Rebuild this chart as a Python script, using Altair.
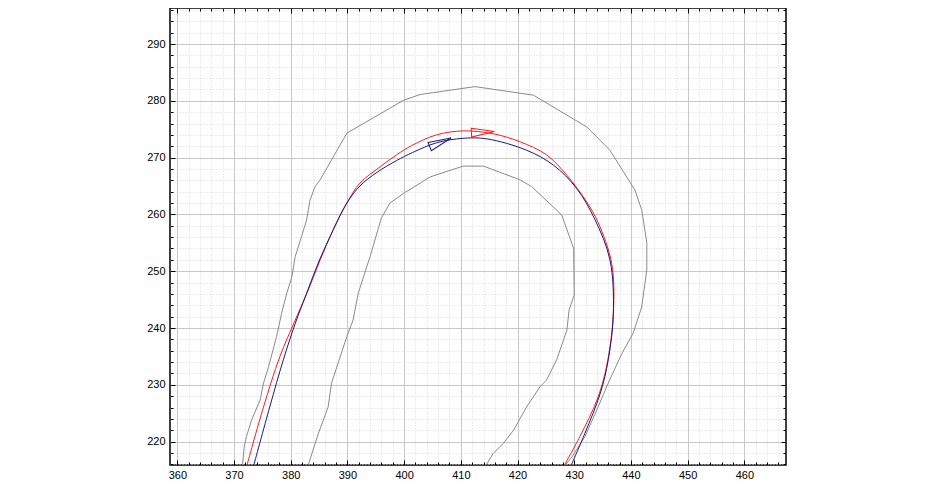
import altair as alt
import pandas as pd

# ---- data ----
outer_x = [371.5, 371.8, 372.2, 373.1, 374.6, 375.2, 376.1, 377.5, 378.4, 379.3, 380.2, 380.5, 380.8,
           381.9, 382.8, 383.4, 384.3, 385.2, 389.9, 399.9, 402.8, 412.5, 422.8, 432.2, 436.3, 440.7,
           441.9, 442.8, 442.8, 441.9, 440.4, 438.4, 436.0, 434.0, 431.9, 429.6, 428.1]
outer_y = [215.9, 219.1, 220.9, 223.8, 227.3, 230.3, 233.2, 238.5, 242.6, 246.1, 249.0, 250.8, 252.6,
           256.1, 259.0, 262.5, 264.9, 266.1, 274.3, 280.1, 281.1, 282.5, 281.0, 275.4, 271.3, 264.3,
           260.8, 255.0, 250.2, 243.7, 239.1, 235.5, 230.3, 225.6, 220.9, 217.3, 215.5]

inner_x = [383.1, 384.9, 386.6, 387.2, 389.9, 391.0, 391.9, 394.0, 396.0, 397.5, 399.9, 404.6, 410.4,
           414.0, 420.4, 422.5, 427.8, 429.9, 430.0, 429.1, 428.7, 426.9, 425.1, 424.0, 421.6, 419.3,
           417.5, 415.7, 414.5]
inner_y = [215.9, 221.5, 226.1, 230.3, 238.5, 241.4, 246.1, 252.6, 259.4, 262.0, 263.7, 266.6, 268.5,
           268.5, 266.1, 264.9, 259.9, 254.0, 245.8, 243.2, 239.6, 234.4, 230.8, 229.7, 226.1, 222.0,
           219.7, 217.9, 215.9]

red_x = [372.3, 375.2, 378.1, 380.8, 383.1, 385.2, 387.5, 389.9, 392.2, 395.8, 398.7, 401.3, 405.7,
         410.4, 415.7, 420.4, 425.1, 428.7, 432.2, 434.2, 436.6, 436.9, 435.7, 434.0, 431.0, 428.3]
red_y = [215.9, 226.1, 235.0, 241.4, 246.7, 252.0, 257.3, 262.0, 265.5, 268.4, 270.5, 272.1, 274.0,
         274.7, 274.2, 272.8, 270.5, 266.9, 262.2, 258.6, 251.4, 242.6, 233.2, 227.3, 220.9, 215.9]

blue_x = [373.5, 376.3, 378.7, 380.8, 382.8, 385.0, 387.5, 389.9, 392.2, 395.2, 398.7, 401.5, 405.7,
          410.4, 414.6, 421.6, 426.3, 430.4, 433.6, 436.3, 436.9, 436.0, 434.6, 431.9, 429.5]
blue_y = [215.9, 226.1, 234.4, 240.8, 246.1, 251.8, 257.3, 262.0, 265.0, 267.4, 269.5, 270.9, 272.6,
          273.4, 273.3, 271.3, 268.7, 264.6, 259.2, 252.0, 242.6, 234.4, 228.5, 221.5, 215.9]

marker_series = ["red", "blue"]
marker_x = [413.9, 406.4]
marker_y = [274.5, 272.7]
marker_heading = [357, 338]

x_major = [360, 370, 380, 390, 400, 410, 420, 430, 440, 450, 460]
x_minor = list(range(360, 468, 2))
y_major = [220, 230, 240, 250, 260, 270, 280, 290]
y_minor = list(range(216, 298, 2))

series_names = ["outer", "inner", "red", "blue"]
series_colors = ["#8a8a8a", "#8a8a8a", "#ff1a1a", "#1a1a80"]

# ---- tables ----
rows = []
for name, xs_, ys_ in [("outer", outer_x, outer_y), ("inner", inner_x, inner_y),
                       ("red", red_x, red_y), ("blue", blue_x, blue_y)]:
    for i, (a, b) in enumerate(zip(xs_, ys_)):
        rows.append({"series": name, "i": i, "x": a, "y": b})
lines_df = pd.DataFrame(rows)
markers_df = pd.DataFrame({"series": marker_series, "x": marker_x, "y": marker_y,
                           "heading": marker_heading})

xs = alt.Scale(domain=[358.71, 467.35], nice=False, zero=False)
ys = alt.Scale(domain=[215.88, 296.34], nice=False, zero=False)
cscale = alt.Scale(domain=series_names, range=series_colors)

FONT = "Liberation Sans"


def ax(orient, values, **kw):
    base = dict(orient=orient, values=values, title=None, labels=False, ticks=False,
                domain=False, grid=False)
    base.update(kw)
    return alt.Axis(**base)


def axis_layer(xaxis, yaxis):
    return alt.Chart(markers_df).mark_point(opacity=0, size=1).encode(
        x=alt.X("x:Q", scale=xs, axis=xaxis),
        y=alt.Y("y:Q", scale=ys, axis=yaxis),
    )


minor_grid = axis_layer(
    ax("bottom", x_minor, grid=True, gridColor="#d9d9d9", gridDash=[1, 2], gridWidth=1),
    ax("left", y_minor, grid=True, gridColor="#d9d9d9", gridDash=[1, 2], gridWidth=1),
)
major_grid = axis_layer(
    ax("bottom", x_major, grid=True, gridColor="#c8c8c8", gridWidth=1),
    ax("left", y_major, grid=True, gridColor="#c8c8c8", gridWidth=1),
)
label_axes = axis_layer(
    ax("bottom", x_major, labels=True, tickSize=0, labelPadding=4, labelFont=FONT,
       labelFontSize=11, labelColor="#000000"),
    ax("left", y_major, labels=True, tickSize=0, labelPadding=5, labelFont=FONT,
       labelFontSize=11, labelColor="#000000"),
)
tick_kw_major = dict(ticks=True, tickSize=5, offset=-5, tickColor="#000000", tickWidth=1)
tick_kw_minor = dict(ticks=True, tickSize=3, offset=-3, tickColor="#000000", tickWidth=1)
major_ticks_bl = axis_layer(ax("bottom", x_major, **tick_kw_major), ax("left", y_major, **tick_kw_major))
minor_ticks_bl = axis_layer(ax("bottom", x_minor, **tick_kw_minor), ax("left", y_minor, **tick_kw_minor))
major_ticks_tr = axis_layer(ax("top", x_major, **tick_kw_major), ax("right", y_major, **tick_kw_major))
minor_ticks_tr = axis_layer(ax("top", x_minor, **tick_kw_minor), ax("right", y_minor, **tick_kw_minor))

gray_lines = alt.Chart(lines_df).transform_filter(
    alt.FieldOneOfPredicate(field="series", oneOf=["outer", "inner"])
).mark_line(strokeWidth=1, clip=True).encode(
    x=alt.X("x:Q", scale=xs, axis=None),
    y=alt.Y("y:Q", scale=ys, axis=None),
    color=alt.Color("series:N", scale=cscale, legend=None),
    detail="series:N",
    order=alt.Order("i:Q"),
)

path_lines = alt.Chart(lines_df).transform_filter(
    alt.FieldOneOfPredicate(field="series", oneOf=["red", "blue"])
).mark_line(strokeWidth=1, clip=True, interpolate="catmull-rom").encode(
    x=alt.X("x:Q", scale=xs, axis=None),
    y=alt.Y("y:Q", scale=ys, axis=None),
    color=alt.Color("series:N", scale=cscale, legend=None),
    detail="series:N",
    order=alt.Order("i:Q"),
)

markers = alt.Chart(markers_df).mark_point(
    shape="M -1 -0.38 L 1 0 L -1 0.38 Z", filled=False, size=530, strokeWidth=1, opacity=1
).encode(
    x=alt.X("x:Q", scale=xs, axis=None),
    y=alt.Y("y:Q", scale=ys, axis=None),
    stroke=alt.Stroke("series:N", scale=cscale, legend=None),
    angle=alt.Angle("heading:Q", scale=None),
)

chart = alt.layer(
    minor_grid, major_grid, gray_lines, path_lines, markers, label_axes,
    major_ticks_bl, minor_ticks_bl, major_ticks_tr, minor_ticks_tr,
).resolve_scale(
    x="shared", y="shared"
).resolve_axis(
    x="independent", y="independent"
).properties(
    width=616, height=457,
    autosize=alt.AutoSizeParams(type="none"),
    padding={"left": 162, "top": 0, "right": 10, "bottom": 22},
    background="#ffffff",
).configure_view(
    stroke="#000000", strokeWidth=1.5
)

chart.save("out.html", embed_options={"renderer": "svg", "actions": False})
